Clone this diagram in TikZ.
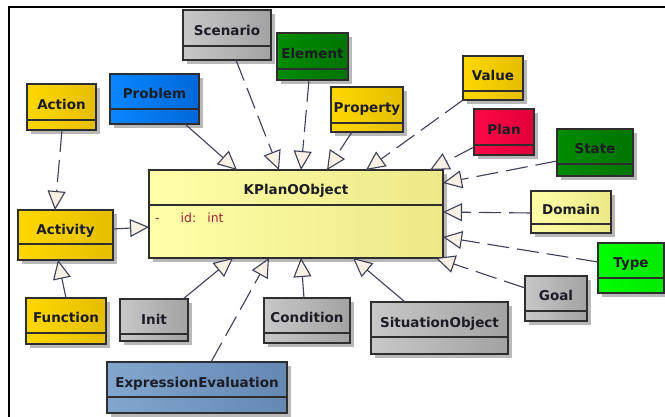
\documentclass[tikz,border=0pt]{standalone}
\usepackage{fontspec}
\setmainfont{DejaVu Sans}
\usetikzlibrary{arrows.meta,shadows}

\definecolor{boxline}{HTML}{2E2E2E}
\definecolor{edgecol}{HTML}{3C3F58}
\definecolor{tipfill}{HTML}{FAF0E4}
\definecolor{labelcol}{HTML}{1C1C24}
\definecolor{attrcol}{HTML}{A3203F}
\definecolor{goldL}{HTML}{FFD800}
\definecolor{goldR}{HTML}{E4BE00}
\definecolor{grayL}{HTML}{C8C8C8}
\definecolor{grayR}{HTML}{A2A2A2}
\definecolor{greenL}{HTML}{008C00}
\definecolor{greenR}{HTML}{007400}
\definecolor{blueL}{HTML}{0A86FF}
\definecolor{blueR}{HTML}{0068D8}
\definecolor{planL}{HTML}{FF0846}
\definecolor{planR}{HTML}{E0003A}
\definecolor{paleL}{HTML}{FFFFA8}
\definecolor{paleR}{HTML}{EDE988}
\definecolor{limeL}{HTML}{00FF00}
\definecolor{limeR}{HTML}{00E800}
\definecolor{steelL}{HTML}{82A6CE}
\definecolor{steelR}{HTML}{6488B2}

\begin{document}
\begin{tikzpicture}[x=1pt,y=-1pt,
	cls/.style={draw=boxline, line width=1.3pt, anchor=north west, inner sep=0pt, outer sep=0pt,
		font=\fontsize{13.5}{16}\selectfont\bfseries, text=labelcol,
		drop shadow={shadow xshift=4pt,shadow yshift=-4pt,fill=black!28,opacity=1}},
	divider/.style={path picture={\draw[boxline,line width=1.3pt]
		([yshift=#1pt]path picture bounding box.south west) -- ([yshift=#1pt]path picture bounding box.south east);}},
	goldbox/.style={left color=goldL,right color=goldR},
	graybox/.style={left color=grayL,right color=grayR},
	greenbox/.style={left color=greenL,right color=greenR},
	bluebox/.style={left color=blueL,right color=blueR},
	planbox/.style={left color=planL,right color=planR},
	palebox/.style={left color=paleL,right color=paleR},
	limebox/.style={left color=limeL,right color=limeR},
	steelbox/.style={left color=steelL,right color=steelR},
	realize/.style={draw=edgecol, line width=1.1pt, dash pattern=on 22pt off 8pt,
		-{Triangle[length=19pt,width=18pt,fill=tipfill]}},
	inherit/.style={draw=edgecol, line width=1.1pt,
		-{Triangle[length=19pt,width=18pt,fill=tipfill]}},
	attr/.style={font=\fontsize{12.5}{15}\selectfont, text=attrcol, inner sep=0pt}
]
	\useasboundingbox (0,0) rectangle (665,417);
	\draw [line width=1.6pt] (9,417) -- (9,7) -- (665,7);

	\node[cls, palebox, divider=53, minimum width=294pt, text height=25pt, text depth=63pt] (kplan) at (149,170) {KPlanOObject};
	\node[attr, anchor=base west] (idattr) at (155,223) {-\hspace{21pt}id:\hspace{11pt}int};

	\node[cls, graybox, divider=14, minimum width=88pt, text height=25.5pt, text depth=24.5pt] (scenario) at (183,10) {Scenario};
	\node[cls, greenbox, divider=11, minimum width=71pt, text height=25.5pt, text depth=21.5pt] (element) at (277,33) {Element};
	\node[cls, goldbox, divider=10, minimum width=69pt, text height=25.5pt, text depth=20.5pt] (action) at (27,84) {Action};
	\node[cls, bluebox, divider=15, minimum width=89pt, text height=25pt, text depth=25pt] (problem) at (110,74) {Problem};
	\node[cls, goldbox, divider=9, minimum width=72pt, text height=25.5pt, text depth=19.5pt] (property) at (331,87) {Property};
	\node[cls, goldbox, divider=9, minimum width=60pt, text height=25pt, text depth=19pt] (value) at (463,56) {Value};
	\node[cls, planbox, divider=10, minimum width=60pt, text height=25.5pt, text depth=20.5pt] (plan) at (474,109) {Plan};
	\node[cls, greenbox, divider=12, minimum width=76pt, text height=25pt, text depth=22pt] (state) at (557,129) {State};
	\node[cls, palebox, divider=9, minimum width=80pt, text height=24pt, text depth=18pt] (domain) at (531,191) {Domain};
	\node[cls, limebox, divider=15, minimum width=66pt, text height=25pt, text depth=25pt] (type) at (598,243) {Type};
	\node[cls, graybox, divider=10, minimum width=62pt, text height=25pt, text depth=20pt] (goal) at (525,276) {Goal};
	\node[cls, graybox, divider=17, minimum width=137pt, text height=25pt, text depth=27pt] (situation) at (371,302) {SituationObject};
	\node[cls, graybox, divider=10, minimum width=86pt, text height=25pt, text depth=20pt] (condition) at (264,298) {Condition};
	\node[cls, graybox, divider=7, minimum width=68pt, text height=25pt, text depth=17pt] (init) at (120,299) {Init};
	\node[cls, goldbox, divider=11, minimum width=80pt, text height=25pt, text depth=21pt] (function) at (26,298) {Function};
	\node[cls, goldbox, divider=16, minimum width=95pt, text height=24.5pt, text depth=25.5pt] (activity) at (18,210) {Activity};
	\node[cls, steelbox, divider=16, minimum width=180pt, text height=25pt, text depth=26pt] (expreval) at (107,362) {ExpressionEvaluation};

	\draw[inherit] ([xshift=75pt]problem.south west) -- ([xshift=88pt]kplan.north west);
	\draw[realize] ([xshift=53pt]scenario.south west) -- ([xshift=130pt]kplan.north west);
	\draw[realize] ([xshift=32pt]element.south west) -- ([xshift=152pt]kplan.north west);
	\draw[realize] ([xshift=21pt]property.south west) -- ([xshift=178pt]kplan.north west);
	\draw[realize] (value.south west) -- ([xshift=217pt]kplan.north west);
	\draw[realize] ([yshift=8pt]plan.south west) -- ([xshift=281pt]kplan.north west);
	\draw[realize] ([yshift=15pt]state.south west) -- ([yshift=-13pt]kplan.north east);
	\draw[realize] ([yshift=20pt]domain.south west) -- ([yshift=-42pt]kplan.north east);
	\draw[realize] ([yshift=-19pt]type.north west) -- ([yshift=-67pt]kplan.north east);
	\draw[realize] ([yshift=-12pt]goal.north west) -- ([xshift=-7pt]kplan.south east);
	\draw[inherit] ([xshift=34pt]situation.north west) -- ([xshift=204pt]kplan.south west);
	\draw[realize] ([xshift=40pt]condition.north west) -- ([xshift=152pt]kplan.south west);
	\draw[realize] ([xshift=104pt]expreval.north west) -- ([xshift=120pt]kplan.south west);
	\draw[inherit] ([xshift=63pt]init.north west) -- ([xshift=84pt]kplan.south west);
	\draw[inherit] ([yshift=-19pt]activity.north east) -- ([yshift=-57pt]kplan.north west);
	\draw[realize] ([xshift=35pt]action.south west) -- ([xshift=37pt]activity.north west);
	\draw[inherit] ([xshift=40pt]function.north west) -- ([xshift=40pt]activity.south west);
\end{tikzpicture}
\end{document}
